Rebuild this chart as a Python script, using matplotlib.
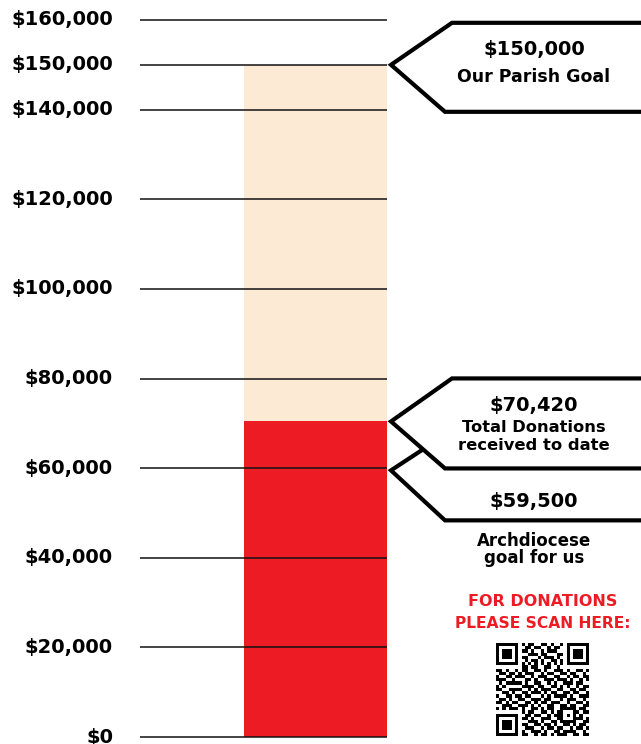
import matplotlib
matplotlib.use("Agg")
import matplotlib.pyplot as plt
import numpy as np
from matplotlib.patches import Polygon

# ---------------- data ----------------
tick_values = [0, 20000, 40000, 60000, 80000, 100000, 120000, 140000, 150000, 160000]
tick_labels = ["$0", "$20,000", "$40,000", "$60,000", "$80,000", "$100,000",
               "$120,000", "$140,000", "$150,000", "$160,000"]
parish_goal = 150000
donations = 70420
archdiocese_goal = 59500
goal_texts = ["$150,000", "Our Parish Goal"]
donation_texts = ["$70,420", "Total Donations", "received to date"]
arch_texts = ["$59,500", "Archdiocese", "goal for us"]
scan_texts = ["FOR DONATIONS", "PLEASE SCAN HERE:"]

RED = "#ED1C24"
PEACH = "#FDEAD5"

# ---------------- figure ----------------
W, H = 641, 744
fig = plt.figure(figsize=(W / 100, H / 100), dpi=100)
ax = fig.add_axes([0, 0, 1, 1])
ax.set_xlim(0, W)
# pixel-from-top p -> value
Y0, Y160 = 737, 20
k = 160000 / (Y0 - Y160)
ax.set_ylim((Y0 - H) * k, Y0 * k)
ax.axis("off")

def dv(px):
    """pixel offset (downwards positive) to value offset"""
    return -px * k

# bars
bar_left, bar_w = 244, 143
ax.bar(bar_left, parish_goal, width=bar_w, align="edge", color=PEACH, zorder=1)
ax.bar(bar_left, donations, width=bar_w, align="edge", color=RED, zorder=2)

# gridlines and labels
ax.hlines(tick_values, 140, 387, color="#111111", lw=1.1, zorder=3, clip_on=False)
for v, lab in zip(tick_values, tick_labels):
    ax.text(113, v, lab, ha="right", va="center", fontsize=14, fontweight="bold",
            family="DejaVu Sans", color="black")

LW = 3.0
tip_x = 391
right_x = 660

def callout(value, up_px, down_px, top_x=452, bot_x=445):
    pts = [(tip_x, value), (top_x, value + dv(-up_px)), (right_x, value + dv(-up_px)),
           (right_x, value + dv(down_px)), (bot_x, value + dv(down_px))]
    poly = Polygon(pts, closed=True, facecolor="white", edgecolor="black", lw=LW,
                   joinstyle="miter", zorder=5)
    ax.add_patch(poly)
    return pts

callout(parish_goal, 42, 47)
p2 = callout(donations, 43, 47)

# third callout: upper edge stops on the lower diagonal of callout 2
v3 = archdiocese_goal
tip3 = (tip_x, v3)
bot3 = (445, v3 + dv(50))

def to_px(pt):  # x pixels, y pixels upward
    return np.array([pt[0], pt[1] / k])

A, B = to_px(p2[0]), to_px(p2[4])
T = to_px(tip3)
d1 = B - A
d2 = np.array([61.0, 40.0])  # up-right
M = np.array([d1, -d2]).T
s, t = np.linalg.solve(M, T - A)
X = A + s * d1
inter = (X[0], X[1] * k)
ax.plot([inter[0], tip3[0], bot3[0], right_x], [inter[1], tip3[1], bot3[1], bot3[1]],
        color="black", lw=LW, solid_joinstyle="miter", solid_capstyle="butt", zorder=6)

tx = 534
def txt(y_px, s, size, weight="bold", color="black"):
    ax.text(tx, (Y0 - y_px) * k, s, ha="center", va="center", fontsize=size,
            fontweight=weight, color=color, family="DejaVu Sans", zorder=8)

txt(50, goal_texts[0], 14)
txt(77, goal_texts[1], 12.5)
txt(405, donation_texts[0], 14)
txt(428, donation_texts[1], 11.7)
txt(446, donation_texts[2], 11.8)
txt(502, arch_texts[0], 14)
txt(541, arch_texts[1], 12)
txt(558, arch_texts[2], 12)
ax.text(543, (Y0 - 601) * k, scan_texts[0], ha="center", va="center", fontsize=11.5,
        fontweight="bold", color=RED, family="DejaVu Sans")
ax.text(543, (Y0 - 623) * k, scan_texts[1], ha="center", va="center", fontsize=11.2,
        fontweight="bold", color=RED, family="DejaVu Sans")

# ---------------- QR code (decorative, fixed pattern) ----------------
F = ["1111111", "1000001", "1011101", "1011101", "1011101", "1000001", "1111111"]
rows = [
    F[0] + "0" + "1011001101001" + "0" + F[0],
    F[1] + "0" + "0110110010110" + "0" + F[1],
    F[2] + "0" + "1101001011100" + "0" + F[2],
    F[3] + "0" + "0011101100011" + "0" + F[3],
    F[4] + "0" + "1100010111010" + "0" + F[4],
    F[5] + "0" + "0101101001101" + "0" + F[5],
    F[6] + "0" + "1010101010101" + "0" + F[6],
    "00000000" + "1101100110010" + "00000000",
    "110100" + "1" + "0110011010011101001101",
    "011011" + "0" + "1011100101100110110010",
    "100110" + "1" + "1100101110011001011011",
    "111001" + "0" + "0011010011101110100101",
    "010111" + "1" + "1010011001010011101100",
    "101000" + "0" + "0111101100110101001011",
    "110011" + "1" + "1001010111001100110110",
    "001101" + "0" + "0110111010110011011001",
    "100110" + "1" + "1011000101011110100111",
    "011010" + "0" + "1100111011000101110010",
    "110101" + "1" + "0011010110111001001101",
    "001110" + "0" + "1110101001100110110011",
    "101011" + "1" + "0100110101100" + "11111" + "0110",
    "00000000" + "101100110101" + "10001" + "1011",
    F[0] + "0" + "011011001011" + "10101" + "0100",
    F[1] + "0" + "110100111001" + "10001" + "1101",
    F[2] + "0" + "001110100110" + "11111" + "0011",
    F[3] + "0" + "110011011010011010110",
    F[4] + "0" + "011100101101100101101",
    F[5] + "0" + "100111010011011110010",
    F[6] + "0" + "110010110101110011011",
]
qr = np.array([[int(c) for c in r] for r in rows])
qax = fig.add_axes([496 / W, (H - 736) / H, 93 / W, 93 / H])
qax.imshow(qr, cmap="gray_r", interpolation="nearest", vmin=0, vmax=1)
qax.axis("off")

fig.savefig("out.png", dpi=100)
